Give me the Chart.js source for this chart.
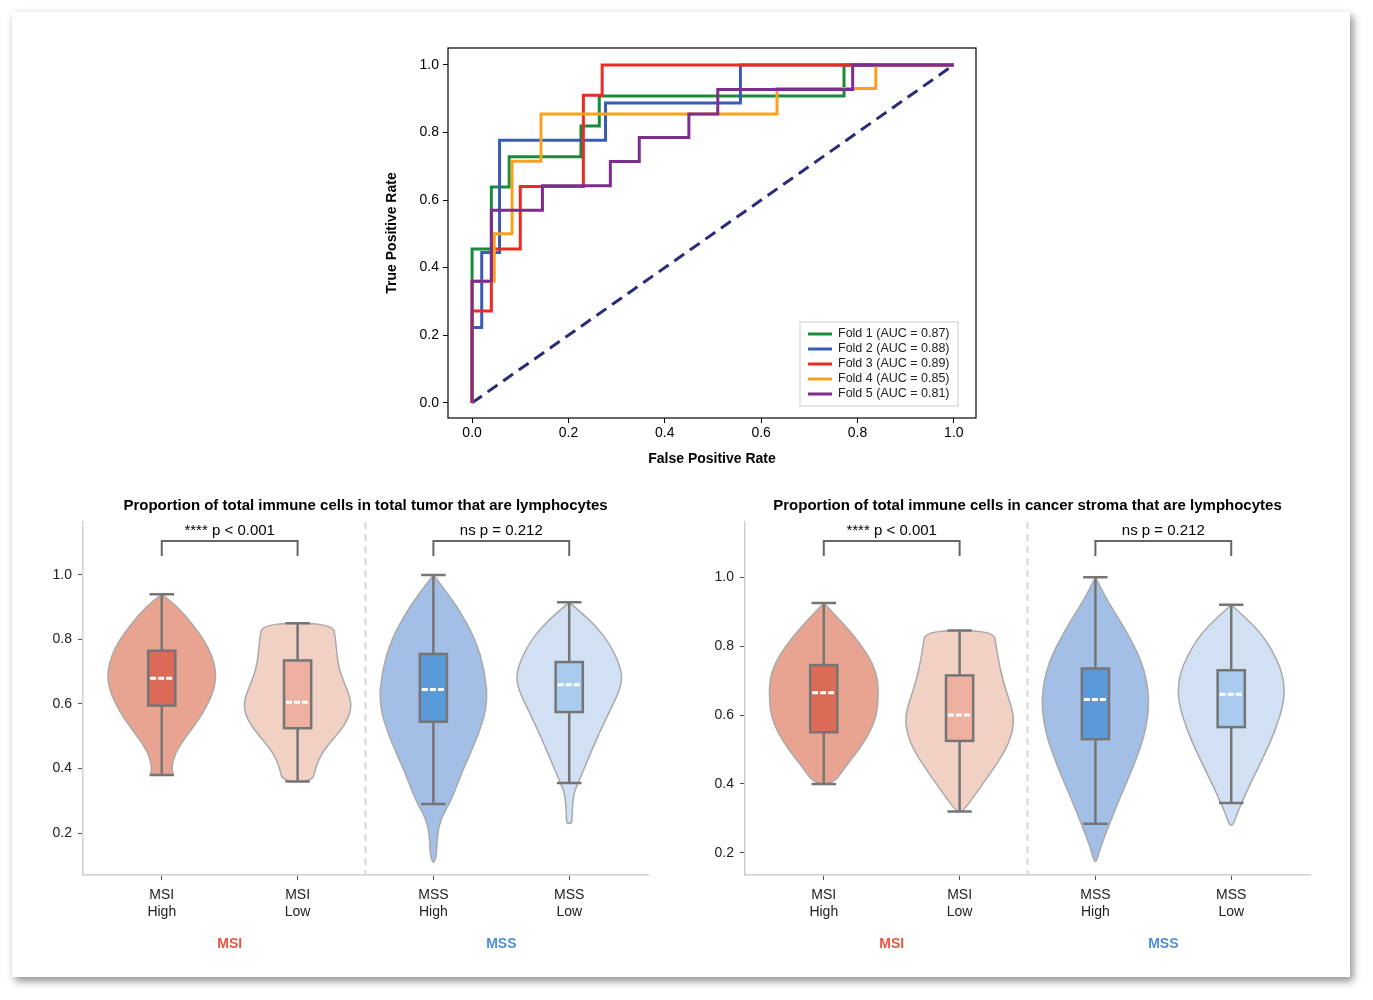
<!DOCTYPE html>
<html>
<head>
<meta charset="utf-8">
<script src="https://cdn.jsdelivr.net/npm/chart.js@4"></script>
<style>
  body { margin:0; background:#fff; font-family:"Liberation Sans", Arial, sans-serif; }
  #card { position:absolute; left:12px; top:12px; width:1338px; height:965px; background:#fff;
          box-shadow: 3px 4px 8px rgba(0,0,0,0.45); }
  canvas { position:absolute; }
</style>
</head>
<body>
<div id="card"></div>
<div style="position:absolute;left:380px;top:30px;width:610px;height:450px"><canvas id="roc"></canvas></div>
<div style="position:absolute;left:20px;top:490px;width:650px;height:470px"><canvas id="v1"></canvas></div>
<div style="position:absolute;left:690px;top:490px;width:640px;height:470px"><canvas id="v2"></canvas></div>
<script>
// ---------- ROC data ----------
const foldLabels = ['Fold 1 (AUC = 0.87)', 'Fold 2 (AUC = 0.88)', 'Fold 3 (AUC = 0.89)', 'Fold 4 (AUC = 0.85)', 'Fold 5 (AUC = 0.81)'];
const foldColors = ['#1a8a3c', '#3a5bb5', '#ee2a24', '#f9a11b', '#7f2b8f'];
const fold1 = [[0,0],[0,0.455],[0.04,0.455],[0.04,0.639],[0.077,0.639],[0.077,0.728],[0.226,0.728],[0.226,0.819],[0.264,0.819],[0.264,0.908],[0.772,0.908],[0.772,1],[1,1]];
const fold2 = [[0,0],[0,0.223],[0.02,0.223],[0.02,0.445],[0.057,0.445],[0.057,0.777],[0.277,0.777],[0.277,0.887],[0.557,0.887],[0.557,1],[1,1]];
const fold3 = [[0,0],[0,0.272],[0.04,0.272],[0.04,0.455],[0.1,0.455],[0.1,0.64],[0.231,0.64],[0.231,0.91],[0.27,0.91],[0.27,1],[1,1]];
const fold4 = [[0,0],[0,0.36],[0.046,0.36],[0.046,0.5],[0.083,0.5],[0.083,0.715],[0.143,0.715],[0.143,0.855],[0.633,0.855],[0.633,0.93],[0.838,0.93],[0.838,1],[1,1]];
const fold5 = [[0,0],[0,0.36],[0.04,0.36],[0.04,0.57],[0.146,0.57],[0.146,0.642],[0.287,0.642],[0.287,0.714],[0.347,0.714],[0.347,0.785],[0.45,0.785],[0.45,0.855],[0.51,0.855],[0.51,0.927],[0.79,0.927],[0.79,1],[1,1]];
const folds = [fold1, fold2, fold3, fold4, fold5];
const rocTicks = [0, 0.2, 0.4, 0.6, 0.8, 1.0];

// ---------- violin data ----------
const groups = [['MSI','High'], ['MSI','Low'], ['MSS','High'], ['MSS','Low']];
const violinFill = ['#e8a491', '#f2d1c5', '#a3bfe6', '#d1e1f3'];
const boxFill = ['#db6b56', '#eeb0a0', '#5a9ad8', '#a9cbed'];
const yTicks = [0.2, 0.4, 0.6, 0.8, 1.0];

// left panel (total tumor)
const tumorLevels = [
  [0.38,0.40,0.45,0.50,0.55,0.60,0.65,0.70,0.75,0.80,0.85,0.90,0.94],
  [0.36,0.40,0.45,0.50,0.55,0.60,0.65,0.70,0.75,0.80,0.85],
  [0.11,0.20,0.25,0.30,0.40,0.50,0.60,0.70,0.80,0.90,1.00],
  [0.23,0.25,0.32,0.36,0.42,0.50,0.58,0.65,0.70,0.78,0.85,0.915]
];
const tumorWidths = [
  [0.09,0.07,0.10,0.18,0.27,0.34,0.39,0.40,0.37,0.31,0.22,0.12,0],
  [0.11,0.13,0.18,0.28,0.37,0.40,0.36,0.31,0.29,0.28,0.26],
  [0.02,0.03,0.06,0.13,0.22,0.33,0.40,0.38,0.31,0.18,0],
  [0.02,0.02,0.03,0.07,0.13,0.21,0.30,0.38,0.39,0.31,0.18,0]
];
const tumorBox = [ // whiskerLow, q1, median, q3, whiskerHigh
  [0.38,0.595,0.68,0.765,0.94],
  [0.36,0.525,0.605,0.735,0.85],
  [0.29,0.545,0.645,0.755,1.0],
  [0.355,0.575,0.66,0.73,0.915]
];

// right panel (cancer stroma)
const stromaLevels = [
  [0.40,0.45,0.50,0.55,0.60,0.65,0.70,0.75,0.80,0.85,0.925],
  [0.32,0.35,0.40,0.45,0.50,0.55,0.60,0.65,0.70,0.75,0.80,0.845],
  [0.175,0.22,0.28,0.35,0.45,0.55,0.65,0.75,0.85,0.93,1.0],
  [0.28,0.30,0.34,0.40,0.48,0.56,0.64,0.70,0.76,0.84,0.92]
];
const stromaWidths = [
  [0.07,0.16,0.26,0.34,0.39,0.40,0.40,0.36,0.28,0.18,0],
  [0.02,0.08,0.17,0.26,0.34,0.39,0.40,0.36,0.32,0.29,0.27,0.25],
  [0.01,0.04,0.10,0.17,0.28,0.37,0.40,0.35,0.22,0.09,0],
  [0.01,0.03,0.07,0.14,0.24,0.33,0.39,0.39,0.34,0.22,0]
];
const stromaBox = [
  [0.40,0.55,0.665,0.745,0.925],
  [0.32,0.525,0.60,0.715,0.845],
  [0.285,0.53,0.645,0.735,1.0],
  [0.345,0.565,0.66,0.73,0.92]
];

const FONT = '"Liberation Sans", Arial, sans-serif';
Chart.defaults.font.family = FONT;
Chart.defaults.color = '#000';
Chart.defaults.animation = false;

// ---------- ROC chart ----------
const rocFrame = {
  id: 'rocFrame',
  afterDraw(chart) {
    const {ctx, chartArea: a} = chart;
    ctx.save();
    ctx.strokeStyle = '#000'; ctx.lineWidth = 1.2;
    ctx.strokeRect(a.left, a.top, a.right - a.left, a.bottom - a.top);
    // legend box in lower right
    const w = 158, h = 84, x0 = a.right - w - 18, y0 = a.bottom - h - 12;
    ctx.fillStyle = 'rgba(255,255,255,0.85)';
    ctx.strokeStyle = '#ccc'; ctx.lineWidth = 1;
    ctx.fillRect(x0, y0, w, h); ctx.strokeRect(x0, y0, w, h);
    ctx.font = '12.5px ' + FONT; ctx.textBaseline = 'middle';
    foldLabels.forEach((t, i) => {
      const y = y0 + 12 + i * 15;
      ctx.strokeStyle = foldColors[i]; ctx.lineWidth = 3;
      ctx.beginPath(); ctx.moveTo(x0 + 8, y); ctx.lineTo(x0 + 32, y); ctx.stroke();
      ctx.fillStyle = '#222'; ctx.fillText(t, x0 + 38, y);
    });
    ctx.restore();
  }
};

new Chart(document.getElementById('roc'), {
  type: 'scatter',
  data: {
    datasets: folds.map((f, i) => ({
      label: foldLabels[i],
      data: f.map(p => ({x: p[0], y: p[1]})),
      order: 5 - i,
      showLine: true, borderColor: foldColors[i], borderWidth: 3, pointRadius: 0, fill: false
    })).concat([{
      label: 'chance', data: [{x:0, y:0}, {x:1, y:1}], showLine: true, order: 10,
      borderColor: '#2b2b78', borderWidth: 3, borderDash: [12, 7], pointRadius: 0
    }])
  },
  options: {
    responsive: true, maintainAspectRatio: false,
    layout: { padding: { top: 18, right: 14, bottom: 8 } },
    plugins: { legend: { display: false }, tooltip: { enabled: false } },
    scales: {
      x: {
        min: -0.05, max: 1.046,
        afterBuildTicks: s => { s.ticks = rocTicks.map(v => ({value: v})); },
        afterFit: s => { s.height = 54; },
        ticks: { font: { size: 14 }, callback: v => v.toFixed(1), maxRotation: 0, padding: 2 },
        grid: { display: true, drawOnChartArea: false, tickLength: 5, color: '#000' },
        border: { display: false },
        title: { display: true, text: 'False Positive Rate', font: { size: 14, weight: 'bold' }, padding: { top: 0 } }
      },
      y: {
        min: -0.045, max: 1.05,
        afterBuildTicks: s => { s.ticks = rocTicks.map(v => ({value: v})); },
        afterFit: s => { s.width = 68; },
        ticks: { font: { size: 14 }, callback: v => v.toFixed(1), padding: 4 },
        grid: { display: true, drawOnChartArea: false, tickLength: 5, color: '#000' },
        border: { display: false },
        title: { display: true, text: 'True Positive Rate', font: { size: 14, weight: 'bold' }, padding: { bottom: 0 } }
      }
    }
  },
  plugins: [rocFrame]
});

// ---------- violin charts ----------
function violinPlugin(title, levels, widths, boxes) {
  return {
    id: 'violins',
    beforeDatasetsDraw(chart) {
      const {ctx, chartArea: a, scales: {x, y}} = chart;
      ctx.save();
      // separator
      ctx.strokeStyle = '#d8d8d8'; ctx.lineWidth = 2; ctx.setLineDash([7, 5]);
      const sx = x.getPixelForValue(1.5);
      ctx.beginPath(); ctx.moveTo(sx, a.top); ctx.lineTo(sx, a.bottom); ctx.stroke();
      ctx.setLineDash([]);
      levels.forEach((lv, i) => {
        const pts = [];
        lv.forEach((v, k) => pts.push([x.getPixelForValue(i + widths[i][k]), y.getPixelForValue(v)]));
        for (let k = lv.length - 1; k >= 0; k--) pts.push([x.getPixelForValue(i - widths[i][k]), y.getPixelForValue(lv[k])]);
        ctx.beginPath();
        ctx.moveTo((pts[0][0] + pts[pts.length - 1][0]) / 2, pts[0][1]);
        for (let k = 0; k < pts.length; k++) {
          const p = pts[k], n = pts[(k + 1) % pts.length];
          ctx.quadraticCurveTo(p[0], p[1], (p[0] + n[0]) / 2, (p[1] + n[1]) / 2);
        }
        ctx.closePath();
        ctx.fillStyle = violinFill[i]; ctx.fill();
        ctx.strokeStyle = '#a9a9a9'; ctx.lineWidth = 1.5; ctx.stroke();
        // box
        const b = boxes[i], cx = x.getPixelForValue(i);
        const hw = x.getPixelForValue(i + 0.1) - cx, cap = x.getPixelForValue(i + 0.09) - cx;
        ctx.strokeStyle = '#757575'; ctx.lineWidth = 2.5;
        ctx.beginPath();
        ctx.moveTo(cx, y.getPixelForValue(b[0])); ctx.lineTo(cx, y.getPixelForValue(b[4]));
        ctx.moveTo(cx - cap, y.getPixelForValue(b[0])); ctx.lineTo(cx + cap, y.getPixelForValue(b[0]));
        ctx.moveTo(cx - cap, y.getPixelForValue(b[4])); ctx.lineTo(cx + cap, y.getPixelForValue(b[4]));
        ctx.stroke();
        const t = y.getPixelForValue(b[3]), bt = y.getPixelForValue(b[1]);
        ctx.fillStyle = boxFill[i];
        ctx.fillRect(cx - hw, t, 2 * hw, bt - t);
        ctx.strokeRect(cx - hw, t, 2 * hw, bt - t);
        const m = y.getPixelForValue(b[2]);
        ctx.strokeStyle = '#fff'; ctx.lineWidth = 3; ctx.setLineDash([6, 2]);
        ctx.beginPath(); ctx.moveTo(cx - hw + 2, m); ctx.lineTo(cx + hw - 2, m); ctx.stroke();
        ctx.setLineDash([]);
      });
      ctx.restore();
    },
    afterDraw(chart) {
      const {ctx, chartArea: a, scales: {x, y}} = chart;
      ctx.save();
      ctx.fillStyle = '#000'; ctx.textAlign = 'center'; ctx.textBaseline = 'middle';
      ctx.font = 'bold 15px ' + FONT;
      ctx.fillText(title, (a.left + a.right) / 2, a.top - 16);
      // significance brackets
      const brackets = [[0, 1, '**** p < 0.001'], [2, 3, 'ns p = 0.212']];
      const yb = a.top + 19, ytip = yb + 15;
      brackets.forEach(([i, j, txt]) => {
        const x1 = x.getPixelForValue(i), x2 = x.getPixelForValue(j);
        ctx.strokeStyle = '#666'; ctx.lineWidth = 2;
        ctx.beginPath(); ctx.moveTo(x1, ytip); ctx.lineTo(x1, yb); ctx.lineTo(x2, yb); ctx.lineTo(x2, ytip); ctx.stroke();
        ctx.font = '15px ' + FONT; ctx.fillStyle = '#000';
        ctx.fillText(txt, (x1 + x2) / 2, yb - 10);
      });
      // group labels
      ctx.font = 'bold 14px ' + FONT;
      ctx.fillStyle = '#e8553e';
      ctx.fillText('MSI', x.getPixelForValue(0.5), a.bottom + 69);
      ctx.fillStyle = '#4f8fd6';
      ctx.fillText('MSS', x.getPixelForValue(2.5), a.bottom + 69);
      ctx.restore();
    }
  };
}

function makeViolin(id, title, levels, widths, boxes, ymin, ymax, yw, right) {
  new Chart(document.getElementById(id), {
    type: 'scatter',
    data: { datasets: [{ data: boxes.map((b, i) => ({x: i, y: b[2]})), pointRadius: 0 }] },
    options: {
      responsive: true, maintainAspectRatio: false,
      layout: { padding: { top: 32, right: right } },
      plugins: { legend: { display: false }, tooltip: { enabled: false } },
      scales: {
        x: {
          min: -0.58, max: 3.58,
          afterBuildTicks: s => { s.ticks = groups.map((g, i) => ({value: i})); },
          afterFit: s => { s.height = 85; },
          ticks: { font: { size: 14 }, color: '#222', maxRotation: 0, padding: 7,
                   callback: v => groups[v] },
          grid: { display: true, drawOnChartArea: false, tickLength: 5, color: '#555' },
          border: { color: '#cfcfcf', width: 1.5 }
        },
        y: {
          min: ymin, max: ymax,
          afterBuildTicks: s => { s.ticks = yTicks.map(v => ({value: v})); },
          afterFit: s => { s.width = yw; },
          ticks: { font: { size: 14 }, color: '#222', callback: v => v.toFixed(1), padding: 6 },
          grid: { display: true, drawOnChartArea: false, tickLength: 5, color: '#555' },
          border: { color: '#cfcfcf', width: 1.5 }
        }
      }
    },
    plugins: [violinPlugin(title, levels, widths, boxes)]
  });
}

makeViolin('v1', 'Proportion of total immune cells in total tumor that are lymphocytes',
  tumorLevels, tumorWidths, tumorBox, 0.07, 1.164, 63, 22);
makeViolin('v2', 'Proportion of total immune cells in cancer stroma that are lymphocytes',
  stromaLevels, stromaWidths, stromaBox, 0.136, 1.16, 55, 20);
</script>
</body>
</html>
